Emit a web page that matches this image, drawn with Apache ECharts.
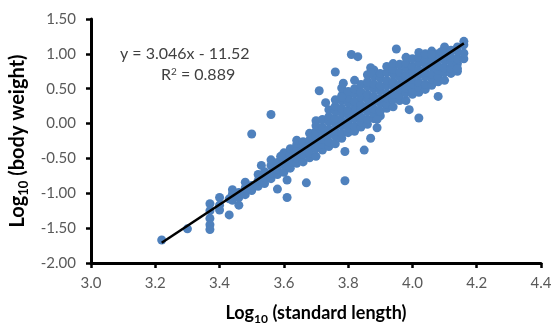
<!DOCTYPE html>
<html>
<head>
<meta charset="utf-8">
<script src="https://cdn.jsdelivr.net/npm/echarts@6/dist/echarts.min.js"></script>
<style>
  html, body { margin: 0; padding: 0; background: #fff; }
  #chart { width: 551px; height: 326px; }
</style>
</head>
<body>
<div id="chart"></div>
<script>
// dense band: one x column -> list of y values
const bandLength = [3.44, 3.46, 3.48, 3.50, 3.52, 3.54, 3.56, 3.58, 3.60, 3.62, 3.64, 3.66, 3.68, 3.70,
  3.72, 3.74, 3.76, 3.78, 3.80, 3.82, 3.84, 3.86, 3.88, 3.90, 3.92, 3.94, 3.96, 3.98, 4.00,
  4.02, 4.04, 4.06, 4.08, 4.10, 4.12, 4.14, 4.16];
const bandWeight = [
  [-1.10, -1.01, -0.95],
  [-1.06, -0.99],
  [-1.02, -0.92, -0.84],
  [-0.96, -0.89],
  [-0.90, -0.82, -0.73],
  [-0.86, -0.77, -0.69],
  [-0.79, -0.71, -0.60, -0.52],
  [-0.73, -0.66, -0.56],
  [-0.70, -0.59, -0.51, -0.42],
  [-0.64, -0.55, -0.44, -0.36],
  [-0.57, -0.50, -0.41, -0.30, -0.24],
  [-0.55, -0.44, -0.37, -0.26],
  [-0.49, -0.42, -0.31, -0.24, -0.14],
  [-0.47, -0.36, -0.29, -0.18, -0.11, -0.03, 0.04],
  [-0.38, -0.30, -0.23, -0.12, -0.05, 0.06],
  [-0.33, -0.26, -0.15, -0.08, 0.03, 0.10, 0.20],
  [-0.29, -0.18, -0.11, 0.00, 0.07, 0.18, 0.25, 0.34],
  [-0.21, -0.14, -0.03, 0.04, 0.15, 0.22, 0.33, 0.40, 0.51],
  [-0.13, -0.06, 0.01, 0.12, 0.19, 0.30, 0.37, 0.46],
  [-0.11, -0.04, 0.07, 0.14, 0.25, 0.32, 0.43, 0.50, 0.62],
  [-0.05, 0.02, 0.09, 0.20, 0.27, 0.38, 0.45, 0.56],
  [-0.01, 0.06, 0.17, 0.24, 0.35, 0.42, 0.53, 0.60, 0.70],
  [0.07, 0.14, 0.21, 0.32, 0.39, 0.50, 0.57, 0.68, 0.77],
  [0.11, 0.18, 0.29, 0.36, 0.47, 0.54, 0.65, 0.72],
  [0.22, 0.28, 0.37, 0.44, 0.55, 0.62, 0.73, 0.82],
  [0.24, 0.35, 0.42, 0.53, 0.60, 0.71, 0.78, 0.86],
  [0.33, 0.40, 0.49, 0.56, 0.67, 0.74, 0.85],
  [0.33, 0.44, 0.51, 0.62, 0.69, 0.80, 0.87, 0.95],
  [0.42, 0.48, 0.57, 0.64, 0.75, 0.82, 0.93],
  [0.45, 0.52, 0.59, 0.70, 0.77, 0.88, 0.95, 1.02],
  [0.49, 0.56, 0.67, 0.74, 0.85, 0.92, 1.00],
  [0.55, 0.64, 0.71, 0.82, 0.89, 0.99, 1.04],
  [0.60, 0.67, 0.76, 0.83, 0.94, 1.00],
  [0.62, 0.73, 0.80, 0.91, 0.98, 1.06, 1.10],
  [0.72, 0.79, 0.88, 0.95, 1.05],
  [0.75, 0.86, 0.93, 1.04, 1.10],
  [0.93, 1.01, 1.13, 1.18]
];

// scattered points away from the band
const outlierLength = [3.22, 3.30, 3.37, 3.37, 3.37, 3.37, 3.37, 3.40, 3.40, 3.40, 3.43, 3.43, 3.46,
  3.50, 3.53, 3.61, 3.58, 3.61, 3.67, 3.56, 3.79, 3.79, 3.71, 3.81, 3.83, 3.76, 3.785, 3.87, 3.87,
  3.95, 4.14, 4.08, 3.99, 4.02, 3.85, 3.87, 3.89, 3.89, 4.06, 4.09, 3.73, 3.78, 3.64, 3.59];
const outlierWeight = [-1.67, -1.51, -1.15, -1.25, -1.36, -1.45, -1.52, -1.06, -1.17, -1.24, -1.31, -1.08, -1.17,
  -0.15, -0.60, -1.06, -0.94, -0.81, -0.85, 0.13, -0.40, -0.82, 0.47, 0.99, 0.96, 0.74, 0.58, 0.80, 0.73,
  1.07, 0.79, 0.39, 0.20, 0.08, -0.38, -0.21, -0.06, 0.06, 0.99, 1.03, 0.30, 0.38, -0.40, -0.47];

// trendline end points, y = 3.046x - 11.52
const fitLength = [3.22, 4.16];
const fitWeight = [-1.71, 1.15];

const xTicks = [3.0, 3.2, 3.4, 3.6, 3.8, 4.0, 4.2, 4.4];
const yTicks = [-2.0, -1.5, -1.0, -0.5, 0.0, 0.5, 1.0, 1.5];

const points = [];
bandLength.forEach((x, i) => bandWeight[i].forEach(y => points.push([x, y])));
outlierLength.forEach((x, i) => points.push([x, outlierWeight[i]]));
const fitLine = fitLength.map((x, i) => [x, fitWeight[i]]);

const font = "Lato, 'Open Sans', sans-serif";
const axisLineStyle = { color: "#000", width: 3 };
function nameRich(size) {
  return {
    a: { fontSize: size, fontWeight: "bold", color: "#000", fontFamily: font, lineHeight: 24 },
    b: { fontSize: Math.round(size * 0.66), fontWeight: "bold", color: "#000", fontFamily: font, lineHeight: 12, verticalAlign: "bottom" },
  };
}

const chart = echarts.init(document.getElementById("chart"));
chart.setOption({
  animation: false,
  textStyle: { fontFamily: font },
  grid: { left: 91, right: 10, top: 19, bottom: 63, containLabel: false, outerBoundsMode: "none" },
  xAxis: {
    type: "value",
    min: xTicks[0],
    max: xTicks[xTicks.length - 1],
    interval: 0.2,
    splitLine: { show: false },
    axisLine: { onZero: false, lineStyle: axisLineStyle },
    axisTick: { length: 5, lineStyle: { color: "#000", width: 2.5 } },
    axisLabel: {
      color: "#595959", fontSize: 15, margin: 13, fontFamily: font,
      formatter: v => v.toFixed(1),
    },
    name: "{a|Log}{b|10}{a| (standard length)}",
    nameLocation: "middle",
    nameGap: 38,
    nameTextStyle: { rich: nameRich(18) },
  },
  yAxis: {
    type: "value",
    min: yTicks[0],
    max: yTicks[yTicks.length - 1],
    interval: 0.5,
    splitLine: { show: false },
    axisLine: { onZero: false, lineStyle: axisLineStyle },
    axisTick: { length: 5, lineStyle: { color: "#000", width: 2.5 } },
    axisLabel: {
      color: "#595959", fontSize: 15, margin: 15, fontFamily: font,
      formatter: v => v.toFixed(2),
    },
    name: "{a|Log}{b|10}{a| (body weight)}",
    nameLocation: "middle",
    nameGap: 58,
    nameTextStyle: { rich: nameRich(20) },
  },
  graphic: [
    {
      type: "text", left: 120, top: 46,
      style: { text: "y = 3.046x - 11.52", fill: "#404040", font: "16px " + font },
    },
    {
      type: "text", left: 161, top: 67,
      style: {
        text: "{a|R}{s|2}{a| = 0.889}",
        rich: {
          a: { fill: "#404040", fontSize: 16, fontFamily: font },
          s: { fill: "#404040", fontSize: 10, fontFamily: font, verticalAlign: "top", padding: [0, 0, 6, 0] },
        },
      },
    },
  ],
  series: [
    {
      type: "scatter",
      data: points,
      symbolSize: 9,
      itemStyle: { color: "#4F81BD", opacity: 1 },
      z: 2,
    },
    {
      type: "line",
      data: fitLine,
      symbol: "none",
      lineStyle: { color: "#000", width: 2.5 },
      z: 3,
    },
  ],
});
</script>
</body>
</html>
